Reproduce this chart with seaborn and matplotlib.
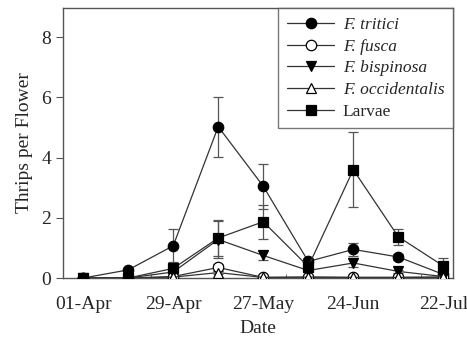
import matplotlib
matplotlib.use("Agg")
import matplotlib.pyplot as plt
import matplotlib.dates as mdates
import seaborn as sns
import pandas as pd
import numpy as np

dates = ["2010-04-01", "2010-04-15", "2010-04-29", "2010-05-13", "2010-05-27",
         "2010-06-10", "2010-06-24", "2010-07-08", "2010-07-22"]
tick_dates = ["2010-04-01", "2010-04-29", "2010-05-27", "2010-06-24", "2010-07-22"]
tick_labels = ["01-Apr", "29-Apr", "27-May", "24-Jun", "22-Jul"]

series_names = ["F. tritici", "F. fusca", "F. bispinosa", "F. occidentalis", "Larvae"]
tritici = [0, 0.27, 1.07, 5.03, 3.05, 0.55, 0.95, 0.70, 0.12]
tritici_se = [0, 0.05, 0.56, 1.0, 0.75, 0.10, 0.22, 0.10, 0.05]
fusca = [0, 0, 0.05, 0.35, 0.02, 0.03, 0.02, 0.02, 0.03]
fusca_se = [0, 0, 0.02, 0.10, 0.01, 0.01, 0.01, 0.01, 0.01]
bispinosa = [0, 0, 0.20, 1.28, 0.75, 0.25, 0.50, 0.22, 0.05]
bispinosa_se = [0, 0, 0.10, 0.62, 0.15, 0.05, 0.15, 0.05, 0.02]
occidentalis = [0, 0, 0.03, 0.18, 0.02, 0.03, 0.02, 0.02, 0.03]
occidentalis_se = [0, 0, 0.01, 0.05, 0.01, 0.01, 0.01, 0.01, 0.01]
larvae = [0, 0, 0.32, 1.33, 1.87, 0.38, 3.60, 1.37, 0.40]
larvae_se = [0, 0, 0.20, 0.60, 0.57, 0.10, 1.25, 0.27, 0.27]

values = [tritici, fusca, bispinosa, occidentalis, larvae]
errors = [tritici_se, fusca_se, bispinosa_se, occidentalis_se, larvae_se]
markers = ["o", "o", "v", "^", "s"]
faces = ["black", "white", "black", "white", "black"]
sizes = [7.5, 7.5, 7, 7, 6.5]

sns.set_style("ticks")
plt.rcParams["font.family"] = ["Liberation Serif", "DejaVu Serif"]
plt.rcParams["mathtext.fontset"] = "stix"

fig, ax = plt.subplots(figsize=(4.67, 3.37), dpi=100)
fig.subplots_adjust(left=0.135, right=0.970, top=0.976, bottom=0.175)

x = pd.to_datetime(dates)
line_col = "#333333"
for name, v, e, m, fc, ms in zip(series_names, values, errors, markers, faces, sizes):
    ax.errorbar(x, v, yerr=e, fmt="none", ecolor="#555555", elinewidth=0.9,
                capsize=3.5, capthick=0.9, zorder=2)
    sns.lineplot(x=x, y=v, ax=ax, color=line_col, linewidth=0.9, marker=m,
                 markersize=ms, markerfacecolor=fc, markeredgecolor="black",
                 markeredgewidth=0.9, label=name, zorder=3)

ax.set_xlim(pd.Timestamp("2010-03-25 18:00"), pd.Timestamp("2010-07-25"))
ax.set_ylim(0, 8.97)
ax.set_yticks([0, 2, 4, 6, 8])
ax.set_xticks(pd.to_datetime(tick_dates))
ax.set_xticklabels(tick_labels)
minor = pd.date_range("2010-04-22", "2010-07-22", freq="21D")
ax.set_xticks(minor, minor=True)
ax.tick_params(axis="x", which="major", direction="in", length=3, labelsize=14,
               pad=13, color="#555555")
ax.tick_params(axis="x", which="minor", direction="in", length=3, color="#555555")
ax.tick_params(axis="y", direction="out", length=5, labelsize=14, color="#555555")
for s in ax.spines.values():
    s.set_visible(True)
    s.set_color("#555555")
    s.set_linewidth(1.0)

ax.set_xlabel("Date", fontsize=14, labelpad=5)
ax.set_ylabel("Thrips per Flower", fontsize=14, labelpad=6)

handles, labels = ax.get_legend_handles_labels()
leg = ax.legend(handles, labels, loc="upper right", borderaxespad=0, fontsize=12.5,
                frameon=True, fancybox=False, edgecolor="#555555",
                handlelength=2.7, handletextpad=0.5, labelspacing=0.32,
                borderpad=0.5)
leg.get_frame().set_linewidth(1.0)
for t in leg.get_texts()[:4]:
    t.set_fontstyle("italic")

fig.savefig("out.png", dpi=100)
